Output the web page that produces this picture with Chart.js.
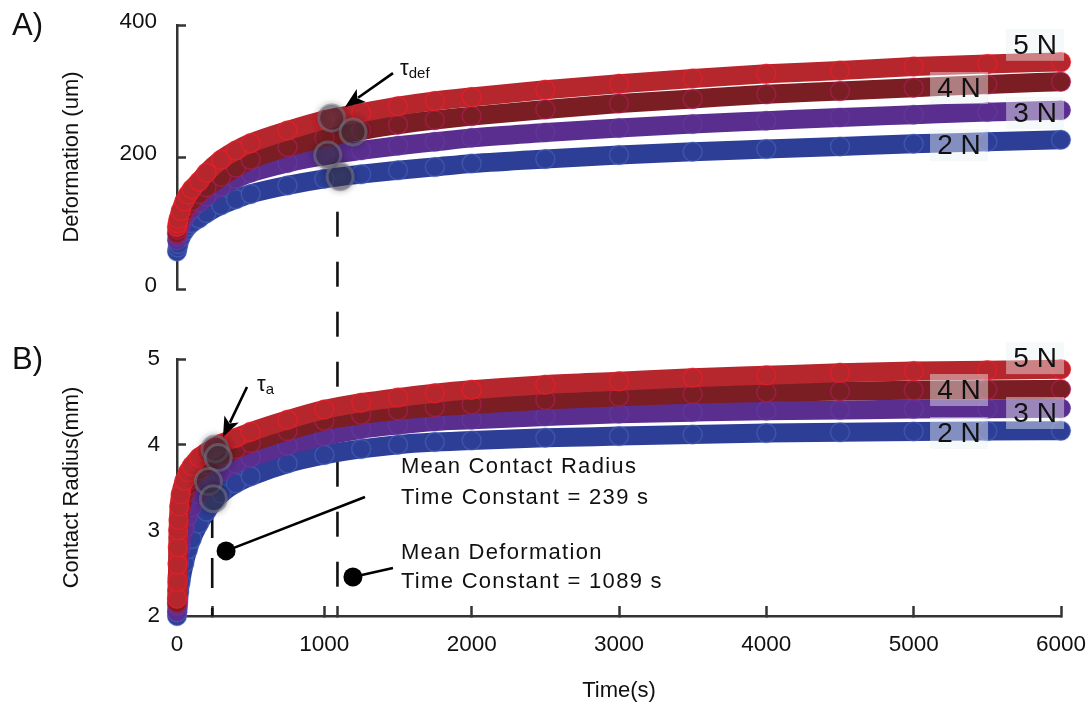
<!DOCTYPE html>
<html>
<head>
<meta charset="utf-8">
<script src="https://cdn.jsdelivr.net/npm/chart.js@4.4.1/dist/chart.umd.min.js"></script>
<style>
html,body{margin:0;padding:0;background:#fff;}
#wrap{width:1088px;height:712px;position:relative;}
</style>
</head>
<body>
<div id="wrap"><canvas id="c"></canvas></div>
<script>
// ---------------- data ----------------
const seriesLabels = ['5 N', '4 N', '3 N', '2 N'];

// Panel A: deformation (um) vs time (s)
const timeA = [0, 5, 10, 25, 50, 75, 100, 150, 200, 300, 400, 500, 750, 1000, 1250, 1500, 1750, 2000, 2500, 3000, 3500, 4000, 4500, 5000, 5500, 6000];
const defo5N = [94, 100, 106, 118, 133, 143, 151, 163, 176, 196, 210, 221, 240, 256, 267, 277, 285, 291, 302, 311, 319, 326, 331, 337, 341, 344];
const defo4N = [84, 90, 96, 106, 118, 126, 133, 144, 154, 170, 184, 196, 215, 229, 240, 249, 256, 262, 272, 281, 288, 295, 300, 305, 310, 314];
const defo3N = [74, 80, 85, 96, 108, 115, 121, 131, 140, 155, 167, 176, 191, 202, 210, 217, 223, 229, 237, 244, 250, 255, 260, 264, 268, 271];
const defo2N = [57, 63, 68, 78, 88, 95, 100, 107, 115, 127, 136, 144, 157, 167, 174, 180, 185, 190, 197, 203, 208, 212, 216, 220, 223, 226];

// Panel B: contact radius (mm) vs time (s)
const timeB = [0, 2, 4, 6, 8, 10, 15, 25, 50, 75, 100, 150, 200, 250, 300, 400, 500, 750, 1000, 1250, 1500, 1750, 2000, 2500, 3000, 3500, 4000, 4500, 5000, 5500, 6000];
const rad5N = [2.2, 2.4, 2.6, 2.8, 3.0, 3.12, 3.28, 3.42, 3.58, 3.68, 3.75, 3.85, 3.91, 3.96, 4.01, 4.08, 4.15, 4.29, 4.41, 4.49, 4.55, 4.6, 4.64, 4.7, 4.74, 4.78, 4.81, 4.84, 4.86, 4.87, 4.88];
const rad4N = [2.15, 2.3, 2.45, 2.62, 2.78, 2.92, 3.08, 3.24, 3.42, 3.52, 3.6, 3.7, 3.77, 3.83, 3.87, 3.95, 4.02, 4.16, 4.28, 4.35, 4.4, 4.44, 4.47, 4.52, 4.56, 4.59, 4.61, 4.625, 4.635, 4.642, 4.646];
const rad3N = [2.05, 2.12, 2.2, 2.3, 2.4, 2.48, 2.62, 2.8, 3.02, 3.17, 3.27, 3.42, 3.53, 3.61, 3.68, 3.78, 3.85, 3.99, 4.1, 4.18, 4.23, 4.27, 4.29, 4.33, 4.36, 4.38, 4.395, 4.405, 4.415, 4.42, 4.425];
const rad2N = [2.0, 2.04, 2.08, 2.12, 2.16, 2.2, 2.28, 2.4, 2.62, 2.78, 2.9, 3.08, 3.22, 3.34, 3.43, 3.55, 3.63, 3.78, 3.88, 3.95, 4.0, 4.03, 4.05, 4.08, 4.1, 4.12, 4.135, 4.145, 4.155, 4.16, 4.163];

// Time-constant markers (order 5N, 4N, 3N, 2N)
const tauDefTime = [1050, 1195, 1023, 1107];
const tauDefValue = [259, 238, 203, 170];
const tauRadTime = [258, 280, 213, 247];
const tauRadValue = [3.95, 3.85, 3.57, 3.37];

const meanTauRadius = 239;
const meanTauDeformation = 1089;

// Tick labels
const xTickLabels = [0, 1000, 2000, 3000, 4000, 5000, 6000];
const yATicks = [0, 200, 400];
const yBTicks = [2, 3, 4, 5];

// ---------------- styling ----------------
const FONT = "'Liberation Sans', Arial, Helvetica, sans-serif";
const bandColors = ['#b5262d', '#7b1e23', '#5a2e8f', '#2d3e97'];
const edgeColors = ['rgba(246,28,38,0.6)', 'rgba(185,30,100,0.55)', 'rgba(112,72,170,0.35)', 'rgba(78,108,190,0.5)'];

function pts(t, v) { return t.map((x, i) => ({x: x, y: v[i]})); }

function band(data, idx, axis) {
  return {
    label: seriesLabels[idx],
    data: data,
    yAxisID: axis,
    showLine: true,
    borderColor: bandColors[idx],
    borderWidth: 19,
    borderCapStyle: 'round',
    borderJoinStyle: 'round',
    cubicInterpolationMode: 'monotone',
    pointRadius: 9.5,
    pointHoverRadius: 9.5,
    pointBackgroundColor: bandColors[idx],
    pointBorderColor: edgeColors[idx],
    pointBorderWidth: 1.5,
    clip: false
  };
}

function tauSet(t, v, axis) {
  return {
    label: 'tau',
    isTau: true,
    data: pts(t, v),
    yAxisID: axis,
    showLine: false,
    pointRadius: 13,
    pointHoverRadius: 13,
    pointBackgroundColor: 'rgba(68,62,80,0.48)',
    pointBorderColor: 'rgba(120,120,135,0.55)',
    pointBorderWidth: 3,
    clip: false
  };
}

const datasets = [
  tauSet(tauDefTime, tauDefValue, 'yA'),
  tauSet(tauRadTime, tauRadValue, 'yB'),
  band(pts(timeA, defo5N), 0, 'yA'),
  band(pts(timeA, defo4N), 1, 'yA'),
  band(pts(timeA, defo3N), 2, 'yA'),
  band(pts(timeA, defo2N), 3, 'yA'),
  band(pts(timeB, rad5N), 0, 'yB'),
  band(pts(timeB, rad4N), 1, 'yB'),
  band(pts(timeB, rad3N), 2, 'yB'),
  band(pts(timeB, rad2N), 3, 'yB')
];

// ---------------- helpers ----------------
function arrow(ctx, x1, y1, x2, y2) {
  const ang = Math.atan2(y2 - y1, x2 - x1);
  const hl = 20, hw = 8;
  const bx = x2 - hl * Math.cos(ang), by = y2 - hl * Math.sin(ang);
  ctx.beginPath();
  ctx.moveTo(x1, y1);
  ctx.lineTo(bx + 4 * Math.cos(ang), by + 4 * Math.sin(ang));
  ctx.stroke();
  ctx.beginPath();
  ctx.moveTo(x2, y2);
  ctx.lineTo(bx - hw * Math.sin(ang), by + hw * Math.cos(ang));
  ctx.lineTo(bx + 5 * Math.cos(ang), by + 5 * Math.sin(ang));
  ctx.lineTo(bx + hw * Math.sin(ang), by - hw * Math.cos(ang));
  ctx.closePath();
  ctx.fill();
}

function forceLabel(ctx, cx, cy, text) {
  const w = 58, h = 32;
  ctx.fillStyle = 'rgba(236,242,242,0.45)';
  ctx.fillRect(cx - w / 2, cy - h / 2, w, h);
  ctx.fillStyle = '#111';
  ctx.font = '28px ' + FONT;
  ctx.textAlign = 'center';
  ctx.textBaseline = 'middle';
  ctx.fillText(text, cx, cy + 1);
}

const annotations = {
  id: 'annotations',
  beforeDatasetsDraw(chart) {
    const {ctx, scales: {x, yA, yB}} = chart;
    ctx.save();
    ctx.strokeStyle = '#111';
    ctx.lineWidth = 2.6;
    // deformation mean time constant, spans both panels
    const xd = x.getPixelForValue(meanTauDeformation);
    ctx.setLineDash([25, 25]);
    ctx.lineDashOffset = 25;
    ctx.beginPath();
    ctx.moveTo(xd, yA.getPixelForValue(155));
    ctx.lineTo(xd, yB.getPixelForValue(2.33));
    ctx.stroke();
    // contact radius mean time constant
    const xr = x.getPixelForValue(meanTauRadius);
    ctx.setLineDash([30, 20]);
    ctx.lineDashOffset = 0;
    ctx.beginPath();
    ctx.moveTo(xr, yB.getPixelForValue(3.26));
    ctx.lineTo(xr, yB.getPixelForValue(2));
    ctx.stroke();
    ctx.restore();
  },
  beforeDatasetDraw(chart, args) {
    const ds = chart.data.datasets[args.index];
    chart.ctx.save();
    if (ds.isTau) {
      chart.ctx.shadowColor = 'rgba(0,0,0,0.45)';
      chart.ctx.shadowBlur = 7;
    }
  },
  afterDatasetDraw(chart) {
    chart.ctx.restore();
  },
  afterDatasetsDraw(chart) {
    const {ctx, scales: {x, yA, yB}} = chart;
    ctx.save();
    // force labels
    const cR = x.getPixelForValue(5824), cL = x.getPixelForValue(5308);
    forceLabel(ctx, cR, yA.getPixelForValue(370), seriesLabels[0]);
    forceLabel(ctx, cL, yA.getPixelForValue(304.5), seriesLabels[1]);
    forceLabel(ctx, cR, yA.getPixelForValue(266.7), seriesLabels[2]);
    forceLabel(ctx, cL, yA.getPixelForValue(218), seriesLabels[3]);
    forceLabel(ctx, cR, yB.getPixelForValue(5.01), seriesLabels[0]);
    forceLabel(ctx, cL, yB.getPixelForValue(4.638), seriesLabels[1]);
    forceLabel(ctx, cR, yB.getPixelForValue(4.37), seriesLabels[2]);
    forceLabel(ctx, cL, yB.getPixelForValue(4.136), seriesLabels[3]);

    // arrows
    ctx.strokeStyle = '#000';
    ctx.fillStyle = '#000';
    ctx.lineWidth = 2.6;
    arrow(ctx, x.getPixelForValue(1466), yA.getPixelForValue(327), x.getPixelForValue(1140), yA.getPixelForValue(275.8));
    arrow(ctx, x.getPixelForValue(475), yB.getPixelForValue(4.673), x.getPixelForValue(312), yB.getPixelForValue(4.089));

    // tau labels
    ctx.textAlign = 'left';
    ctx.textBaseline = 'alphabetic';
    ctx.fillStyle = '#111';
    let tx = x.getPixelForValue(1514), ty = yA.getPixelForValue(324);
    ctx.font = '22px ' + FONT;
    ctx.fillText('τ', tx, ty);
    let w = ctx.measureText('τ').width;
    ctx.font = '15px ' + FONT;
    ctx.fillText('def', tx + w, ty + 3);
    tx = x.getPixelForValue(543); ty = yB.getPixelForValue(4.626);
    ctx.font = '22px ' + FONT;
    ctx.fillText('τ', tx, ty);
    w = ctx.measureText('τ').width;
    ctx.font = '15px ' + FONT;
    ctx.fillText('a', tx + w, ty + 3);

    // leader dots + lines
    ctx.lineWidth = 2.6;
    ctx.strokeStyle = '#000';
    ctx.fillStyle = '#000';
    const d1x = x.getPixelForValue(333), d1y = yB.getPixelForValue(2.76);
    ctx.beginPath(); ctx.moveTo(d1x, d1y); ctx.lineTo(x.getPixelForValue(1276), yB.getPixelForValue(3.39)); ctx.stroke();
    ctx.beginPath(); ctx.arc(d1x, d1y, 9.5, 0, Math.PI * 2); ctx.fill();
    const d2x = x.getPixelForValue(1194), d2y = yB.getPixelForValue(2.455);
    ctx.beginPath(); ctx.moveTo(d2x, d2y); ctx.lineTo(x.getPixelForValue(1466), yB.getPixelForValue(2.56)); ctx.stroke();
    ctx.beginPath(); ctx.arc(d2x, d2y, 9.5, 0, Math.PI * 2); ctx.fill();

    // annotation text
    ctx.fillStyle = '#111';
    ctx.font = '22px ' + FONT;
    ctx.textAlign = 'left';
    ctx.textBaseline = 'middle';
    try { ctx.letterSpacing = '1.3px'; } catch (e) {}
    const txl = x.getPixelForValue(1520);
    ctx.fillText('Mean Contact Radius', txl, yB.getPixelForValue(3.739));
    ctx.fillText('Time Constant = ' + meanTauRadius + ' s', txl, yB.getPixelForValue(3.377));
    ctx.fillText('Mean Deformation', txl, yB.getPixelForValue(2.735));
    ctx.fillText('Time Constant = ' + meanTauDeformation + ' s', txl, yB.getPixelForValue(2.397));
    try { ctx.letterSpacing = '0px'; } catch (e) {}

    // panel letters
    ctx.font = '31px ' + FONT;
    ctx.textBaseline = 'alphabetic';
    ctx.fillText('A)', 12, yA.top + 10);
    ctx.fillText('B)', 12, yB.top + 10);
    ctx.restore();
  }
};

const axisColor = '#333';
function yGrid() {
  return {display: true, drawOnChartArea: false, drawTicks: true, tickLength: -9, tickWidth: 2.5, tickColor: axisColor};
}
function fitY(s) { s.width = 177; s.paddingTop = 0; s.paddingBottom = 0; }
function fitX(s) { s.height = 96; s.paddingLeft = 0; s.paddingRight = 0; }

const chart = new Chart(document.getElementById('c'), {
  type: 'scatter',
  data: {datasets: datasets},
  options: {
    responsive: true,
    maintainAspectRatio: false,
    animation: false,
    events: [],
    layout: {autoPadding: false, padding: {left: 0, right: 27, top: 25, bottom: 0}},
    plugins: {legend: {display: false}, tooltip: {enabled: false}},
    scales: {
      x: {
        type: 'linear', position: 'bottom', min: 0, max: 6000,
        afterBuildTicks(s) {
          s.ticks = xTickLabels.concat([meanTauRadius, meanTauDeformation]).sort((a, b) => a - b).map(v => ({value: v}));
        },
        afterFit: fitX,
        ticks: {
          autoSkip: false, maxRotation: 0, padding: 25, color: '#111',
          font: {family: FONT, size: 22.5},
          callback: v => xTickLabels.includes(v) ? String(v) : ''
        },
        grid: {display: true, drawOnChartArea: false, drawTicks: true, tickLength: -10, tickWidth: 2.5, tickColor: axisColor},
        border: {display: true, color: axisColor, width: 2.5},
        title: {display: true, text: 'Time(s)', color: '#111', font: {family: FONT, size: 22}, padding: {top: 0, bottom: 8}}
      },
      yA: {
        type: 'linear', position: 'left', stack: 'panels', stackWeight: 264, weight: 3,
        min: 0, max: 400,
        afterBuildTicks(s) { s.ticks = yATicks.map(v => ({value: v})); },
        afterFit: fitY,
        ticks: {padding: 29, labelOffset: -3, color: '#111', font: {family: FONT, size: 22.5}, callback: v => String(v)},
        grid: yGrid(),
        border: {display: true, color: axisColor, width: 2.5},
        title: {display: true, text: 'Deformation (um)', color: '#111', font: {family: FONT, size: 22}, padding: {top: 59, bottom: 0}}
      },
      gap: {
        type: 'linear', position: 'left', stack: 'panels', stackWeight: 70, weight: 2,
        display: false, min: 0, max: 1
      },
      yB: {
        type: 'linear', position: 'left', stack: 'panels', stackWeight: 257, weight: 1,
        min: 2, max: 5,
        afterBuildTicks(s) { s.ticks = yBTicks.map(v => ({value: v})); },
        afterFit: fitY,
        ticks: {padding: 26, color: '#111', font: {family: FONT, size: 22.5}, callback: v => String(v)},
        grid: yGrid(),
        border: {display: true, color: axisColor, width: 2.5},
        title: {display: true, text: 'Contact Radius(mm)', color: '#111', font: {family: FONT, size: 22}, padding: {top: 59, bottom: 0}}
      }
    }
  },
  plugins: [annotations]
});
</script>
</body>
</html>
